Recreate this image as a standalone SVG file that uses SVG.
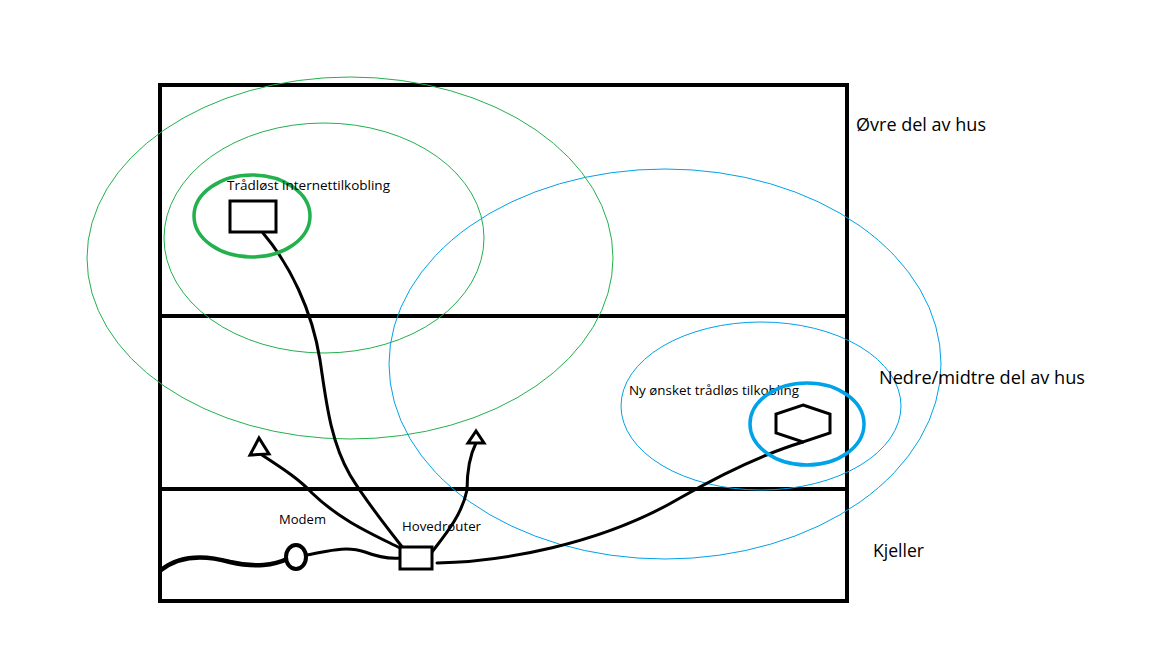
<svg xmlns="http://www.w3.org/2000/svg" width="1152" height="648" viewBox="0 0 1152 648">
<style>
.wall{fill:none;stroke:#000;stroke-width:4}
.g1{fill:none;stroke:#22b14c;stroke-width:1}
.g3{fill:none;stroke:#22b14c;stroke-width:3.5}
.b1{fill:none;stroke:#00a2e8;stroke-width:1}
.b3{fill:none;stroke:#00a2e8;stroke-width:3.5}
.dev{fill:#fff;stroke:#000;stroke-width:3}
.cab{fill:none;stroke:#000;stroke-width:3;stroke-linecap:round;stroke-linejoin:round}
.t{font-family:"Open Sans","Liberation Sans",sans-serif;fill:#000}
.s{font-size:13px}
.l{font-size:18px}
</style>
<rect width="1152" height="648" fill="#fff"/>
<g id="house">
<rect class="wall" x="160" y="85" width="687" height="516"/>
<line class="wall" x1="160" y1="316" x2="849" y2="316"/>
<line class="wall" x1="160" y1="489" x2="847" y2="489"/>
</g>
<g id="coverage">
<ellipse class="g1" cx="350" cy="258" rx="263" ry="181"/>
<ellipse class="g1" cx="324" cy="238" rx="160" ry="115"/>
<ellipse class="b1" cx="665" cy="364" rx="276" ry="195"/>
<ellipse class="b1" cx="761" cy="406" rx="140" ry="84"/>
</g>
<g id="connectors">
<path class="cab" d="M263,233 C290,265 312,310 320,360 C326,400 330,440 350,475 C365,500 385,525 403,548"/>
<path class="cab" d="M262,455 C285,470 300,480 312,493 C340,520 370,533 400,548"/>
<path class="cab" d="M476,443 C470,455 467,470 467,490 C462,515 445,535 432,552"/>
<path class="cab" d="M437,563 C500,562 600,545 680,498 C720,475 760,455 803,442"/>
<path class="cab" d="M161,570 C180,555 205,555 230,562 C255,568 275,565 287,559" style="stroke-width:4.5"/>
<path class="cab" d="M306,555 C325,552 345,545 365,552 C378,557 388,559 400,558"/>
</g>
<g id="wireless-client">
<ellipse class="g3" cx="252" cy="216" rx="58" ry="41"/>
<rect class="dev" x="230" y="201" width="46" height="31"/>
<text class="t s" x="227" y="190" textLength="163" lengthAdjust="spacingAndGlyphs">Trådløst internettilkobling</text>
</g>
<g id="desired-client">
<text class="t s" x="629" y="395" textLength="170" lengthAdjust="spacingAndGlyphs">Ny ønsket trådløs tilkobling</text>
<ellipse class="b3" cx="807" cy="424" rx="57" ry="41"/>
<polygon class="dev" points="803,405 830,414 830,433 803,442 776,433 776,414"/>
</g>
<g id="ap-left">
<polygon class="dev" points="259,438 250,455 269,454"/>
</g>
<g id="ap-right">
<polygon class="dev" points="476,431 468,443 484,443"/>
</g>
<g id="modem">
<ellipse class="dev" cx="296" cy="557" rx="10" ry="12" style="stroke-width:4"/>
<text class="t s" x="279" y="524" textLength="47" lengthAdjust="spacingAndGlyphs">Modem</text>
</g>
<g id="router">
<rect class="dev" x="400" y="547" width="32" height="22"/>
<text class="t s" x="402" y="531" textLength="79" lengthAdjust="spacingAndGlyphs">Hovedrouter</text>
</g>
<g id="labels">
<text class="t l" x="856" y="131" textLength="130" lengthAdjust="spacingAndGlyphs">Øvre del av hus</text>
<text class="t l" x="879" y="384" textLength="206" lengthAdjust="spacingAndGlyphs">Nedre/midtre del av hus</text>
<text class="t l" x="873" y="557" textLength="51" lengthAdjust="spacingAndGlyphs">Kjeller</text>
</g>
</svg>
